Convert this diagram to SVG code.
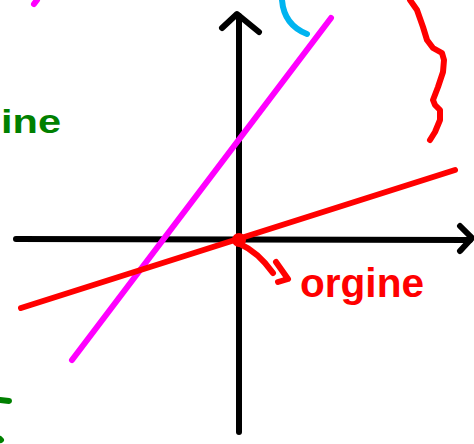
<svg xmlns="http://www.w3.org/2000/svg" width="474" height="444" viewBox="0 0 474 444">
<style>
.s{fill:none;stroke-linecap:round;stroke-linejoin:round}
.k{stroke:#000;stroke-width:6}
.r{stroke:#FF0000;stroke-width:6}
.m{stroke:#FF00FF;stroke-width:6}
.g{stroke:#008000;stroke-width:6}
.c{stroke:#00B4F0;stroke-width:6}
.t{font-family:"Liberation Sans",Arial,sans-serif;font-weight:bold}
</style>
<rect width="474" height="444" fill="#fff"/>
<g id="axes">
<path class="s k" d="M16,239 L470,240"/>
<path class="s k" d="M460,226 L472,238 L460,251"/>
<path class="s k" d="M239,16 L239,432"/>
<path class="s k" d="M222,28 L237,14 L259,32"/>
</g>
<g id="lines">
<path class="s m" d="M72,360 L331,18"/>
<path class="s r" d="M21,308 L455,170"/>
</g>
<g id="origin">
<circle cx="239" cy="240" r="7" fill="#FF0000"/>
<path class="s r" d="M240,244 Q258,252 273,273"/>
<path class="s r" d="M276,262 L288,279 L278,282"/>
<text class="t" x="300" y="297" font-size="40" fill="#FF0000" textLength="124" lengthAdjust="spacingAndGlyphs">orgine</text>
</g>
<g id="marks">
<text class="t" x="1" y="133" font-size="34" fill="#008000" textLength="60" lengthAdjust="spacingAndGlyphs">ine</text>
<path class="s g" d="M0,400 L9,401"/>
<path class="s g" d="M0,439 L1,440"/>
<path class="s m" d="M37,0 L34,4"/>
<path class="s c" d="M282,0 Q284,25 307,34"/>
<path class="s r" d="M410,0 L417,10 L423,27 L427,40 L433,48 L442,53 L444,60 L443,72 L438,87 L433,100 L435,105 L440,110 L440,120 L435,132 L430,140"/>
</g>
</svg>
